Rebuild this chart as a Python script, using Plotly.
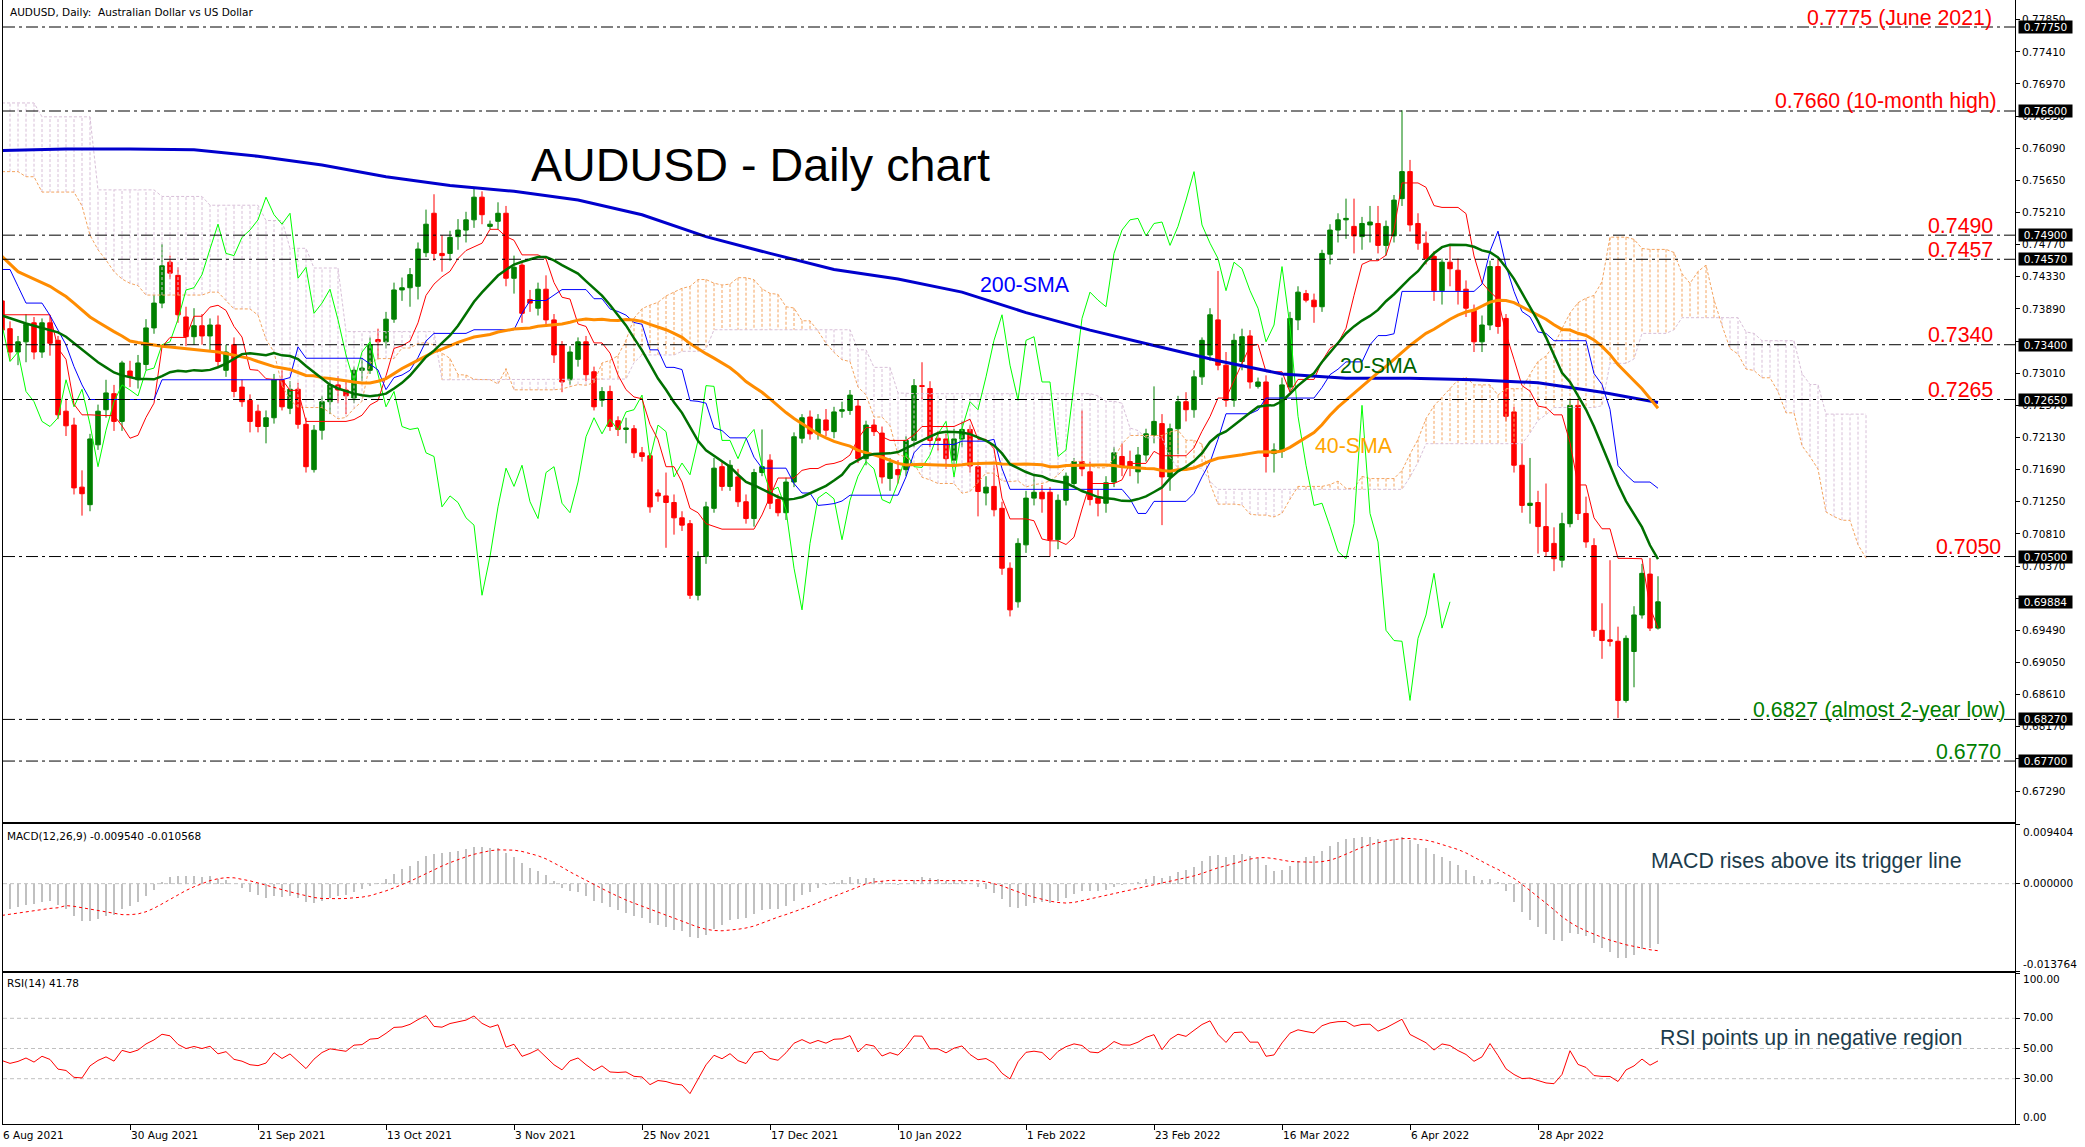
import numpy as np
import plotly.graph_objects as go

# ---------------- data ----------------
date_ticks = [0, 16, 32, 48, 64, 80, 96, 112, 128, 144, 160, 176, 192]
date_labels = ["6 Aug 2021", "30 Aug 2021", "21 Sep 2021", "13 Oct 2021", "3 Nov 2021",
               "25 Nov 2021", "17 Dec 2021", "10 Jan 2022", "1 Feb 2022", "23 Feb 2022",
               "16 Mar 2022", "6 Apr 2022", "28 Apr 2022"]

open_ = [
0.7400,0.7362,0.7330,0.7344,0.7370,0.7330,0.7370,0.7346,0.7249,0.7230,
0.7145,0.7121,0.7203,0.7251,0.7273,0.7235,0.7304,0.7292,0.7313,0.7363,
0.7397,0.7453,0.7435,0.7378,0.7351,0.7366,0.7352,0.7367,0.7305,0.7340,
0.7282,0.7264,0.7249,0.7228,0.7240,0.7292,0.7253,0.7279,0.7231,0.7169,
0.7223,0.7262,0.7285,0.7278,0.7267,0.7305,0.7305,0.7347,0.7344,0.7375,
0.7415,0.7418,0.7420,0.7466,0.7520,0.7465,0.7465,0.7488,0.7497,0.7511,
0.7542,0.7502,0.7509,0.7520,0.7431,0.7449,0.7402,0.7390,0.7416,0.7374,
0.7340,0.7292,0.7320,0.7344,0.7303,0.7264,0.7276,0.7236,0.7224,0.7225,
0.7192,0.7188,0.7137,0.7133,0.7124,0.7103,0.7095,0.6997,0.7050,0.7116,
0.7173,0.7146,0.7159,0.7125,0.7102,0.7165,0.7182,0.7128,0.7110,0.7152,
0.7212,0.7241,0.7218,0.7237,0.7221,0.7249,0.7250,0.7256,0.7184,0.7230,
0.7219,0.7157,0.7169,0.7169,0.7209,0.7284,0.7280,0.7212,0.7211,0.7182,
0.7211,0.7224,0.7173,0.7137,0.7146,0.7116,0.7034,0.6988,0.7066,0.7130,
0.7138,0.7138,0.7073,0.7127,0.7150,0.7180,0.7166,0.7130,0.7123,0.7152,
0.7187,0.7180,0.7166,0.7189,0.7216,0.7232,0.7159,0.7225,0.7262,0.7251,
0.7296,0.7326,0.7374,0.7312,0.7264,0.7317,0.7352,0.7283,0.7289,0.7191,
0.7194,0.7282,0.7374,0.7410,0.7401,0.7392,0.7464,0.7497,0.7511,0.7502,
0.7488,0.7504,0.7506,0.7476,0.7489,0.7540,0.7577,0.7506,0.7479,0.7461,
0.7414,0.7453,0.7442,0.7416,0.7387,0.7344,0.7367,0.7447,0.7376,0.7248,
0.7175,0.7120,0.7124,0.7091,0.7068,0.7045,0.7095,0.7257,0.7109,0.7065,
0.6949,0.6936,0.6934,0.6853,0.6920,0.6970,0.7026,0.6952]

high_ = [
0.7425,0.7372,0.7352,0.7382,0.7378,0.7376,0.7380,0.7352,0.7266,0.7240,
0.7168,0.7218,0.7258,0.7292,0.7285,0.7318,0.7318,0.7326,0.7375,0.7408,
0.7478,0.7462,0.7446,0.7392,0.7390,0.7382,0.7376,0.7380,0.7340,0.7350,
0.7292,0.7272,0.7258,0.7250,0.7300,0.7305,0.7290,0.7288,0.7240,0.7230,
0.7270,0.7295,0.7297,0.7290,0.7310,0.7322,0.7350,0.7362,0.7385,0.7425,
0.7432,0.7445,0.7480,0.7525,0.7546,0.7490,0.7496,0.7512,0.7522,0.7556,
0.7550,0.7510,0.7535,0.7530,0.7462,0.7455,0.7415,0.7425,0.7435,0.7382,
0.7345,0.7338,0.7350,0.7352,0.7310,0.7282,0.7284,0.7242,0.7240,0.7230,
0.7200,0.7192,0.7142,0.7165,0.7135,0.7112,0.7100,0.7057,0.7125,0.7185,
0.7180,0.7182,0.7170,0.7135,0.7170,0.7224,0.7190,0.7135,0.7158,0.7220,
0.7245,0.7250,0.7245,0.7252,0.7255,0.7262,0.7278,0.7265,0.7236,0.7238,
0.7228,0.7185,0.7182,0.7215,0.7293,0.7316,0.7290,0.7222,0.7218,0.7225,
0.7235,0.7230,0.7180,0.7160,0.7175,0.7125,0.7042,0.7075,0.7140,0.7160,
0.7148,0.7145,0.7135,0.7165,0.7185,0.7250,0.7180,0.7142,0.7160,0.7200,
0.7205,0.7195,0.7200,0.7225,0.7283,0.7245,0.7232,0.7270,0.7275,0.7305,
0.7350,0.7390,0.7441,0.7330,0.7355,0.7362,0.7360,0.7295,0.7298,0.7205,
0.7295,0.7385,0.7420,0.7415,0.7410,0.7470,0.7505,0.7520,0.7540,0.7540,
0.7515,0.7530,0.7530,0.7510,0.7545,0.7661,0.7593,0.7520,0.7495,0.7468,
0.7458,0.7475,0.7458,0.7428,0.7395,0.7380,0.7455,0.7458,0.7382,0.7255,
0.7205,0.7185,0.7140,0.7150,0.7090,0.7110,0.7266,0.7265,0.7132,0.7075,
0.6986,0.7045,0.6954,0.6942,0.6982,0.7040,0.7048,0.7023]

low_ = [
0.7338,0.7318,0.7312,0.7316,0.7320,0.7322,0.7325,0.7238,0.7215,0.7135,
0.7106,0.7112,0.7196,0.7240,0.7222,0.7222,0.7282,0.7280,0.7305,0.7355,
0.7390,0.7430,0.7370,0.7338,0.7340,0.7340,0.7330,0.7310,0.7296,0.7268,
0.7255,0.7220,0.7220,0.7205,0.7232,0.7250,0.7245,0.7225,0.7165,0.7165,
0.7210,0.7245,0.7260,0.7245,0.7260,0.7290,0.7300,0.7320,0.7335,0.7370,
0.7400,0.7392,0.7402,0.7460,0.7455,0.7440,0.7455,0.7470,0.7480,0.7500,
0.7505,0.7498,0.7498,0.7420,0.7410,0.7370,0.7385,0.7380,0.7365,0.7315,
0.7275,0.7285,0.7310,0.7290,0.7250,0.7255,0.7222,0.7215,0.7205,0.7185,
0.7180,0.7110,0.7125,0.7062,0.7080,0.7085,0.6992,0.6990,0.7040,0.7110,
0.7140,0.7140,0.7118,0.7095,0.7091,0.7160,0.7115,0.7105,0.7100,0.7145,
0.7205,0.7210,0.7210,0.7215,0.7212,0.7240,0.7244,0.7178,0.7175,0.7215,
0.7150,0.7140,0.7150,0.7160,0.7200,0.7265,0.7200,0.7195,0.7170,0.7175,
0.7200,0.7165,0.7105,0.7120,0.7105,0.7025,0.6968,0.6980,0.7055,0.7120,
0.7110,0.7050,0.7060,0.7120,0.7145,0.7160,0.7120,0.7105,0.7110,0.7145,
0.7160,0.7160,0.7150,0.7180,0.7205,0.7093,0.7140,0.7190,0.7235,0.7240,
0.7285,0.7318,0.7305,0.7255,0.7255,0.7305,0.7280,0.7280,0.7165,0.7165,
0.7185,0.7275,0.7360,0.7398,0.7370,0.7385,0.7450,0.7480,0.7485,0.7465,
0.7470,0.7480,0.7465,0.7462,0.7480,0.7530,0.7495,0.7470,0.7450,0.7400,
0.7395,0.7420,0.7395,0.7378,0.7330,0.7330,0.7360,0.7355,0.7235,0.7165,
0.7110,0.7095,0.7054,0.7050,0.7030,0.7035,0.7090,0.7100,0.7062,0.6940,
0.6910,0.6927,0.6829,0.6850,0.6871,0.6965,0.6948,0.6950]

close_ = [
0.7360,0.7330,0.7344,0.7368,0.7330,0.7370,0.7342,0.7244,0.7229,0.7144,
0.7136,0.7211,0.7249,0.7274,0.7235,0.7315,0.7296,0.7315,0.7363,0.7397,
0.7448,0.7438,0.7381,0.7351,0.7366,0.7352,0.7367,0.7317,0.7330,0.7276,
0.7262,0.7235,0.7228,0.7240,0.7292,0.7255,0.7279,0.7231,0.7173,0.7223,
0.7262,0.7285,0.7278,0.7270,0.7305,0.7308,0.7340,0.7344,0.7375,0.7415,
0.7418,0.7436,0.7471,0.7505,0.7465,0.7462,0.7487,0.7497,0.7511,0.7542,
0.7518,0.7505,0.7520,0.7431,0.7446,0.7383,0.7397,0.7416,0.7374,0.7326,
0.7289,0.7330,0.7344,0.7299,0.7255,0.7276,0.7228,0.7224,0.7226,0.7192,
0.7187,0.7118,0.7133,0.7124,0.7103,0.7093,0.6997,0.7050,0.7118,0.7171,
0.7146,0.7175,0.7125,0.7102,0.7165,0.7173,0.7123,0.7110,0.7152,0.7214,
0.7240,0.7218,0.7238,0.7223,0.7248,0.7251,0.7271,0.7184,0.7230,0.7221,
0.7159,0.7178,0.7162,0.7209,0.7284,0.7283,0.7209,0.7209,0.7184,0.7211,
0.7224,0.7174,0.7139,0.7145,0.7114,0.7034,0.6977,0.7068,0.7130,0.7138,
0.7129,0.7073,0.7127,0.7160,0.7180,0.7170,0.7128,0.7123,0.7151,0.7192,
0.7173,0.7172,0.7189,0.7218,0.7235,0.7159,0.7225,0.7262,0.7251,0.7296,
0.7346,0.7381,0.7312,0.7264,0.7346,0.7351,0.7289,0.7289,0.7187,0.7196,
0.7285,0.7376,0.7412,0.7401,0.7392,0.7465,0.7497,0.7511,0.7513,0.7489,
0.7506,0.7508,0.7476,0.7502,0.7538,0.7577,0.7504,0.7479,0.7458,0.7414,
0.7453,0.7444,0.7414,0.7390,0.7344,0.7367,0.7447,0.7365,0.7242,0.7175,
0.7120,0.7123,0.7091,0.7057,0.7047,0.7095,0.7257,0.7109,0.7070,0.6949,
0.6935,0.6934,0.6853,0.6938,0.6970,0.7027,0.6952,0.6988]

# indicator values visible before enough bars exist
sma20_lead = [0.7380,0.7376,0.7372,0.7369,0.7366,0.7363,0.7360,0.7357,0.7351,0.7342,
              0.7334,0.7325,0.7316,0.7309,0.7302,0.7298,0.7295,0.7293,0.7293]
sma40_lead = [0.7461,0.7450,0.7440,0.7435,0.7430,0.7426,0.7420,0.7413,0.7406,0.7397,
              0.7388,0.7378,0.7371,0.7364,0.7358,0.7352,0.7345,0.7343,0.7341,0.7340,
              0.7338,0.7337,0.7336,0.7334,0.7333,0.7333,0.7332,0.7330,0.7328,0.7326,
              0.7323,0.7321,0.7317,0.7313,0.7310,0.7308,0.7306,0.7302,0.7298]
sma200_bar = [0,8,16,24,32,40,48,56,64,72,80,88,96,104,112,120,128,136,144,152,160,168,176,184,192,200,207]
sma200_val = [0.7606,0.7608,0.7608,0.7607,0.7598,0.7586,0.7570,0.7558,0.7550,0.7538,0.7518,0.7488,
              0.7465,0.7443,0.7430,0.7412,0.7384,0.7360,0.7339,0.7318,0.7300,0.7294,0.7294,0.7292,
              0.7288,0.7275,0.7261]
tenkan_lead = [0.7381,0.7381,0.7381,0.7381,0.7381,0.7381,0.7381,0.7335]
kijun_lead = [0.7443,0.7443,0.7420,0.7397,0.7397,0.7397,0.7380,0.7360,0.7340,0.7310,
              0.7285,0.7265,0.7265,0.7265,0.7265,0.7265,0.7265,0.7265,0.7265,0.7265,
              0.7292,0.7292,0.7292,0.7292,0.7292]
senkou_a_lead = [0.7577,0.7577,0.7577,0.7570,0.7570,0.7549,0.7549,0.7549,0.7549,0.7549,
                 0.7530,0.7490,0.7470,0.7456,0.7440,0.7430,0.7424,0.7421,0.7408,0.7408,
                 0.7408,0.7408,0.7408,0.7408,0.7408,0.7408]
senkou_b_lead = [0.7671,0.7671,0.7671,0.7671,0.7671,
                 0.7652,0.7652,0.7652,0.7652,0.7652,0.7652,0.7652,
                 0.7552,0.7552,0.7552,0.7552,0.7552,0.7552,0.7552,0.7552,
                 0.7543,0.7543,0.7543,0.7543,0.7543,0.7543,
                 0.7531,0.7531,0.7531,0.7531,0.7531,0.7531,0.7531,
                 0.7510,0.7510,0.7510,
                 0.7472,0.7472,0.7472,
                 0.7445,0.7445,0.7445,0.7445,
                 0.7358,0.7358,0.7358,0.7358,0.7358,0.7358,0.7358,0.7358,0.7358,0.7358,0.7358,0.7358,
                 0.7292,0.7292,0.7292,0.7292,0.7292,0.7292,0.7292,0.7292,0.7292,0.7292,0.7292,
                 0.7292,0.7292,0.7292,0.7292,0.7292,0.7292,0.7292,0.7292,0.7292,0.7292,0.7292]
ema_seed = [0.7357, 0.7397]          # EMA12, EMA26 at the first bar
signal_lead = [-0.0050,-0.0048,-0.0046,-0.0044,-0.0043,-0.0041,-0.0039,-0.0038]
rsi_seed = [0.0021, 0.0029]          # Wilder average gain / loss at the first bar

price_ticks = [0.67290,0.67730,0.68170,0.68610,0.69050,0.69490,0.69930,0.70370,0.70810,
               0.71250,0.71690,0.72130,0.72570,0.73010,0.73450,0.73890,0.74330,0.74770,
               0.75210,0.75650,0.76090,0.76530,0.76970,0.77410,0.77850]
hidden_ticks = [0.67730, 0.69930, 0.73450]   # fully covered by price boxes in the reference
levels = [0.7775, 0.7660, 0.7490, 0.7457, 0.7340, 0.7265, 0.7050, 0.6827, 0.6770]
level_texts = ["0.7775 (June 2021)", "0.7660 (10-month high)", "0.7490", "0.7457", "0.7340",
               "0.7265", "0.7050", "0.6827 (almost 2-year low)", "0.6770"]
level_colors = ["#FF0000"] * 7 + ["#008000"] * 2
level_right = [1994, 1999, 1995, 1995, 1995, 1995, 2003, 2008, 2003]
box_prices = [0.77750, 0.76600, 0.74900, 0.74570, 0.73400, 0.72650, 0.70500, 0.69884, 0.68270, 0.67700]

# ---------------- geometry ----------------
W, H = 2085, 1147
ML, MR, MT, MB = 3, 70, 0, 23
PW, PH = W - ML - MR, H - MT - MB
def px_x(px): return (px - ML) / PW
def px_y(py): return 1 - (py - MT) / PH
def bar_px(i): return 2 + 8 * i
XR = [0.125, 251.625]
Y_MAIN = [0.7775 - (822 - 27) / 7304, 0.7775 + 27 / 7304]

# ---------------- indicators ----------------
o = np.array(open_); h = np.array(high_); l = np.array(low_); c = np.array(close_)
N = len(c)
idx = np.arange(N)
sma20 = np.array([sma20_lead[i] if i < 19 else c[i-19:i+1].mean() for i in range(N)])
sma40 = np.array([sma40_lead[i] if i < 39 else c[i-39:i+1].mean() for i in range(N)])
tenkan = np.array([tenkan_lead[i] if i < 8 else (h[i-8:i+1].max() + l[i-8:i+1].min()) / 2 for i in range(N)])
kijun = np.array([kijun_lead[i] if i < 25 else (h[i-25:i+1].max() + l[i-25:i+1].min()) / 2 for i in range(N)])
span_x = np.arange(N + 26)
sen_a = np.array([senkou_a_lead[j] if j < 26 else (tenkan[j-26] + kijun[j-26]) / 2 for j in span_x])
sen_b = np.array([senkou_b_lead[j] if j < 77 else (h[j-77:j-25].max() + l[j-77:j-25].min()) / 2 for j in span_x])

ema12 = np.empty(N); ema26 = np.empty(N)
ema12[0], ema26[0] = ema_seed
for i in range(1, N):
    ema12[i] = ema12[i-1] + 2/13 * (c[i] - ema12[i-1])
    ema26[i] = ema26[i-1] + 2/27 * (c[i] - ema26[i-1])
macd = ema12 - ema26
signal = np.array([signal_lead[i] if i < 8 else macd[i-8:i+1].mean() for i in range(N)])

ag, al = rsi_seed
rsi = [100 - 100 / (1 + ag / al)]
for i in range(1, N):
    d = c[i] - c[i-1]
    ag = (ag * 13 + max(d, 0)) / 14
    al = (al * 13 + max(-d, 0)) / 14
    rsi.append(100 - 100 / (1 + ag / al))

# ---------------- traces ----------------
fig = go.Figure()
SMALL = "DejaVu Sans"
BIG = "Liberation Sans, Arial, sans-serif"

for up, col in [(True, "#F4A460"), (False, "#D8BFD8")]:
    xs, ys = [], []
    for j in span_x:
        if (sen_a[j] >= sen_b[j]) == up:
            xs += [j, j, None]; ys += [sen_a[j], sen_b[j], None]
    fig.add_trace(go.Scatter(x=xs, y=ys, mode="lines", line=dict(color=col, width=1, dash="3px,2px"),
                             hoverinfo="skip", xaxis="x", yaxis="y"))
fig.add_trace(go.Scatter(x=span_x, y=sen_a, mode="lines", line=dict(color="#F4A460", width=1, dash="3px,2px"),
                         hoverinfo="skip", xaxis="x", yaxis="y"))
fig.add_trace(go.Scatter(x=span_x, y=sen_b, mode="lines", line=dict(color="#D8BFD8", width=1, dash="3px,2px"),
                         hoverinfo="skip", xaxis="x", yaxis="y"))

fig.add_trace(go.Candlestick(x=idx, open=o, high=h, low=l, close=c, whiskerwidth=0,
                             increasing=dict(line=dict(color="#008000", width=1), fillcolor="#008000"),
                             decreasing=dict(line=dict(color="#FF0000", width=1), fillcolor="#FF0000"),
                             hoverinfo="skip", xaxis="x", yaxis="y"))

fig.add_trace(go.Scatter(x=idx[:N-26], y=c[26:], mode="lines", line=dict(color="#00FF00", width=1),
                         hoverinfo="skip", xaxis="x", yaxis="y"))
fig.add_trace(go.Scatter(x=idx, y=tenkan, mode="lines", line=dict(color="#FF0000", width=1),
                         hoverinfo="skip", xaxis="x", yaxis="y"))
fig.add_trace(go.Scatter(x=idx, y=kijun, mode="lines", line=dict(color="#0000FF", width=1),
                         hoverinfo="skip", xaxis="x", yaxis="y"))
fig.add_trace(go.Scatter(x=sma200_bar, y=sma200_val, mode="lines", line=dict(color="#0000CD", width=3),
                         hoverinfo="skip", xaxis="x", yaxis="y"))
fig.add_trace(go.Scatter(x=idx, y=sma40, mode="lines", line=dict(color="#FF8C00", width=3),
                         hoverinfo="skip", xaxis="x", yaxis="y"))
fig.add_trace(go.Scatter(x=idx, y=sma20, mode="lines", line=dict(color="#007000", width=2.5),
                         hoverinfo="skip", xaxis="x", yaxis="y"))

fig.add_trace(go.Bar(x=idx, y=macd, width=0.25, marker=dict(color="#C0C0C0", line=dict(width=0)),
                     hoverinfo="skip", xaxis="x2", yaxis="y2"))
fig.add_trace(go.Scatter(x=idx, y=signal, mode="lines", line=dict(color="#FF0000", width=1, dash="dot"),
                         hoverinfo="skip", xaxis="x2", yaxis="y2"))
fig.add_trace(go.Scatter(x=idx, y=rsi, mode="lines", line=dict(color="#FF0000", width=1),
                         hoverinfo="skip", xaxis="x3", yaxis="y3"))

# ---------------- shapes ----------------
shapes = []
for lv in levels:
    shapes.append(dict(type="line", xref="paper", x0=0, x1=1, yref="y", y0=lv, y1=lv,
                       line=dict(color="black", width=1, dash="12px,4px,3px,4px")))
shapes.append(dict(type="line", xref="paper", x0=0, x1=1, yref="y2", y0=0, y1=0,
                   line=dict(color="#C0C0C0", width=1, dash="4px,3px"), layer="below"))
for lv in [30, 50, 70]:
    shapes.append(dict(type="line", xref="paper", x0=0, x1=1, yref="y3", y0=lv, y1=lv,
                       line=dict(color="#C0C0C0", width=1, dash="4px,3px"), layer="below"))

# ---------------- annotations ----------------
ann = []
def text(t, xp, yp, size, color, family=SMALL, xanchor="left"):
    ann.append(dict(text=t, xref="paper", yref="paper", x=px_x(xp), y=px_y(yp), xanchor=xanchor,
                    yanchor="middle", showarrow=False, font=dict(family=family, size=size, color=color)))

text("AUDUSD, Daily:  Australian Dollar vs US Dollar", 8, 12, 10.5, "black")
text("MACD(12,26,9) -0.009540 -0.010568", 5, 836, 10.5, "black")
text("RSI(14) 41.78", 5, 983, 10.5, "black")
text("AUDUSD - Daily chart", 529, 165, 46.67, "black", BIG)
text("200-SMA", 978, 285, 21.33, "#0000FF", BIG)
text("20-SMA", 1338, 366, 21.33, "#006400", BIG)
text("40-SMA", 1313, 446, 21.33, "#FFA500", BIG)
text("MACD rises above its trigger line", 1649, 861, 21.33, "#1C3C4C", BIG)
text("RSI points up in negative region", 1658, 1038, 21.33, "#1C3C4C", BIG)

def price_py(p): return 27 + (0.7775 - p) * 7304
for lv, t, col, rx in zip(levels, level_texts, level_colors, level_right):
    text(t, rx, price_py(lv) - 9.5, 21.33, col, BIG, xanchor="right")

for bp in box_prices:
    ann.append(dict(text=f"{bp:.5f}", xref="paper", yref="y", x=px_x(2018), y=bp, xanchor="left",
                    yanchor="middle", showarrow=False, bgcolor="black", borderpad=0, width=53, height=12,
                    align="center", font=dict(family=SMALL, size=10.5, color="white")))

for t, yp in [("0.009404", 832), ("0.000000", 883), ("-0.013764", 964),
              ("100.00", 979), ("70.00", 1017), ("50.00", 1048), ("30.00", 1078), ("0.00", 1117)]:
    text(t, 2021, yp, 10.5, "black")

for tv, tl in zip(date_ticks, date_labels):
    text(tl, bar_px(tv) - 1, 1135, 10.5, "black")

# ---------------- layout ----------------
axis_common = dict(showgrid=False, zeroline=False, showline=True, mirror=True, linecolor="black",
                   linewidth=1, fixedrange=True)
fig.update_layout(
    width=W, height=H, margin=dict(l=ML, r=MR, t=MT, b=MB, pad=0),
    paper_bgcolor="white", plot_bgcolor="white", showlegend=False,
    boxgap=0.25, boxgroupgap=0.25, bargap=0,
    shapes=shapes, annotations=ann,
    xaxis=dict(domain=[0, 1], range=XR, anchor="y", showticklabels=False, ticks="",
               rangeslider=dict(visible=False), **axis_common),
    xaxis2=dict(domain=[0, 1], range=XR, anchor="y2", showticklabels=False, ticks="", matches="x",
                **axis_common),
    xaxis3=dict(domain=[0, 1], range=XR, anchor="y3", showticklabels=False, matches="x",
                tickvals=date_ticks, ticks="outside", ticklen=5, tickcolor="black", **axis_common),
    yaxis=dict(domain=[px_y(822), 1], range=Y_MAIN, side="right", anchor="x",
               tickvals=price_ticks,
               ticktext=["" if v in hidden_ticks else f"{v:.5f}" for v in price_ticks],
               ticks="outside", ticklen=4, tickcolor="black",
               tickfont=dict(family=SMALL, size=10.5, color="black"), **axis_common),
    yaxis2=dict(domain=[px_y(971), px_y(824)], range=[-0.013764, 0.009404], side="right", anchor="x2",
                tickvals=[0.009404, 0, -0.013764], showticklabels=False, ticks="outside", ticklen=4,
                tickcolor="black", **axis_common),
    yaxis3=dict(domain=[0, px_y(973)], range=[0, 100], side="right", anchor="x3",
                tickvals=[0, 30, 50, 70, 100], showticklabels=False, ticks="outside", ticklen=4,
                tickcolor="black", **axis_common),
)

fig.write_html("out.html", config={"displayModeBar": False, "staticPlot": True},
               post_script="document.body.style.margin='0px';")
